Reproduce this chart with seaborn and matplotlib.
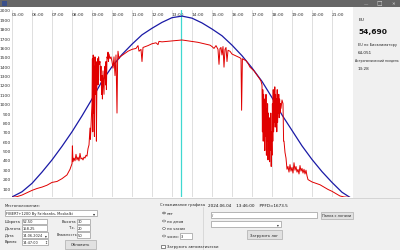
import matplotlib
matplotlib.use("Agg")
import matplotlib.pyplot as plt
from matplotlib.patches import Rectangle, Circle
import seaborn as sns
import pandas as pd

# ---------------- data ----------------
hour_ticks = list(range(5, 22))
hour_labels = [f"{h:02d}:00" for h in hour_ticks]
ppfd_ticks = list(range(100, 2001, 100))

blue_hours = [5.0, 5.5, 6.0, 6.5, 7.0, 7.5, 8.0, 8.5, 9.0, 9.5, 10.0, 10.5, 11.0, 11.5,
              12.0, 12.5, 13.0, 13.5, 14.0, 14.5, 15.0, 15.5, 16.0, 16.5, 17.0, 17.5,
              18.0, 18.5, 19.0, 19.5, 20.0, 20.5, 21.0, 21.5, 21.9]
blue_ppfd = [5, 60, 150, 270, 400, 545, 700, 870, 1050, 1240, 1395, 1525, 1635, 1735,
             1805, 1868, 1918, 1935, 1913, 1862, 1797, 1725, 1625, 1512, 1382, 1238,
             1065, 880, 715, 550, 405, 275, 160, 55, 0]

red_hours = [5.0, 5.25, 5.5, 5.75, 6.0, 6.25, 6.5, 6.75, 7.0, 7.25, 7.5, 7.75, 7.9,
             8.0, 8.02, 8.05, 8.1, 8.15, 8.2, 8.25, 8.3, 8.35, 8.4, 8.45, 8.5, 8.55, 8.6,
             8.65, 8.7, 8.75, 8.8, 8.85, 8.9, 8.92, 8.95,
             9.0, 9.02, 9.04, 9.06, 9.08, 9.1, 9.12, 9.15, 9.18, 9.2, 9.22, 9.25, 9.28,
             9.3, 9.33, 9.36, 9.4, 9.42, 9.45, 9.48, 9.5, 9.52, 9.55, 9.58, 9.6, 9.62,
             9.65, 9.68, 9.7, 9.72, 9.75, 9.78, 9.8, 9.82, 9.85, 9.9, 9.95, 10.0, 10.05,
             10.1, 10.15, 10.2, 10.25, 10.28, 10.3, 10.35, 10.4,
             10.6, 10.8, 11.0, 11.2, 11.3, 11.35, 11.45, 11.5, 11.55, 11.8, 12.0, 12.2,
             12.3, 12.35, 12.5, 13.0, 13.5, 14.0, 14.3, 14.6, 14.9, 15.0, 15.1, 15.2,
             15.3, 15.35, 15.4, 15.45, 15.5, 15.55, 15.6, 15.65, 15.7, 15.75, 15.8, 15.9,
             16.0, 16.1, 16.2, 16.3, 16.4, 16.45, 16.48, 16.52, 16.6, 16.7, 16.8, 16.9,
             17.0, 17.1, 17.2, 17.3, 17.4, 17.45,
             17.5, 17.52, 17.54, 17.56, 17.58, 17.6, 17.62, 17.64, 17.66, 17.68, 17.7,
             17.72, 17.74, 17.76, 17.78, 17.8, 17.82, 17.84, 17.86, 17.88, 17.9, 17.92,
             17.94, 17.96, 17.98, 18.0, 18.02, 18.04, 18.06, 18.08, 18.1, 18.12, 18.14,
             18.16, 18.18, 18.2, 18.22, 18.24, 18.26, 18.28, 18.3, 18.32, 18.34, 18.36,
             18.38, 18.4, 18.42, 18.45, 18.5, 18.55, 18.58,
             18.6, 18.65, 18.7, 18.75, 18.8, 18.85, 18.9, 18.95, 19.0, 19.05, 19.1, 19.15,
             19.2, 19.25, 19.3, 19.35, 19.4, 19.45, 19.5, 19.55, 19.6, 19.65, 19.7, 19.75,
             19.8, 20.0, 20.2, 20.4, 20.6, 20.8, 21.0, 21.2, 21.4, 21.6, 21.9]
red_ppfd = [0, 8, 25, 50, 75, 95, 110, 130, 160, 170, 200, 240, 300,
            360, 550, 380, 420, 390, 460, 400, 430, 390, 470, 410, 420, 400, 430,
            420, 450, 440, 520, 560, 740, 620, 760,
            1000, 1480, 700, 1520, 900, 1400, 650, 1500, 1100, 1450, 600, 1350, 1480,
            1200, 1500, 1420, 1450, 1250, 1400, 1100, 1300, 1050, 1350, 1200, 1100, 1300,
            1400, 1200, 1450, 1150, 1500, 1480, 1550, 1450, 1530, 1480, 1500, 1450, 1380,
            1500, 1300, 1520, 900, 1450, 1560, 1480, 1500,
            1530, 1560, 1580, 1590, 1620, 1560, 1580, 1450, 1600, 1620, 1640, 1650,
            1630, 1665, 1660, 1670, 1680, 1665, 1655, 1640, 1625, 1610, 1590, 1620,
            1580, 1420, 1590, 1600, 1520, 1610, 1390, 1580, 1600, 1450, 1570, 1560,
            1530, 1520, 1510, 1500, 1490, 1480, 930, 1480, 1470, 1460, 1430, 1390,
            1370, 1350, 1320, 1290, 1260, 1240,
            1200, 700, 1150, 600, 1100, 800, 1050, 500, 1000, 650, 1100,
            450, 950, 600, 1000, 400, 900, 550, 850, 380, 800, 500,
            900, 330, 700, 450, 1000, 600, 1150, 700, 950, 800, 1180,
            750, 1100, 850, 1050, 700, 1150, 800, 1000, 900, 1100, 850,
            1050, 900, 1000, 950, 1040, 1000, 600,
            600, 480, 420, 300, 330, 270, 350, 280, 320, 260, 370, 290,
            330, 270, 300, 250, 340, 280, 310, 260, 300, 250, 290, 230,
            190, 165, 150, 135, 110, 85, 65, 40, 15, 5, 0]

solar_noon = 13 + 28 / 60

df_blue = pd.DataFrame({"hour": blue_hours, "ppfd": blue_ppfd})
df_red = pd.DataFrame({"hour": red_hours, "ppfd": red_ppfd})

# ---------------- figure ----------------
sns.set_style("white")
plt.rcParams['font.family'] = ['DejaVu Sans']
W, H = 400, 251
fig = plt.figure(figsize=(W / 100, H / 100), dpi=100)
fig.patch.set_facecolor("white")

UI = 2.7


def fx(x):
    return x / W


def fy(y):
    return 1 - y / H


def rect(x0, y0, x1, y1, fc, ec="none", lw=0.5, z=0):
    fig.patches.append(Rectangle((fx(x0), fy(y1)), fx(x1) - fx(x0), fy(y0) - fy(y1),
                                 transform=fig.transFigure, facecolor=fc, edgecolor=ec,
                                 linewidth=lw, zorder=z))


def txt(x, y, s, size=UI, **kw):
    fig.text(fx(x), fy(y), s, fontsize=size, va="center", ha=kw.pop("ha", "left"),
             color=kw.pop("color", "#222222"), **kw)


# panels
rect(0, 0, 400, 8, "#666666")
rect(353, 8, 400, 251, "#f0f0f0")
rect(0, 198.5, 400, 251, "#f0f0f0")
fig.lines.append(plt.Line2D([0, 1], [fy(198.5), fy(198.5)], transform=fig.transFigure,
                            color="#c8c8c8", lw=0.5))

# title bar glyphs
rect(2, 1.5, 7, 6.5, "#3a4f8a")
txt(364, 4, "\u2014", size=3.2, color="#dddddd")
txt(379, 4, "\u25a1", size=4.2, color="#dddddd", ha="center")
txt(393, 4, "\u2715", size=3.2, color="#dddddd", ha="center")

# ---------------- chart ----------------
ax = fig.add_axes([fx(12), fy(198.4), fx(352) - fx(12), fy(11) - fy(198.4)])
ax.set_facecolor("none")
ax.set_xlim(5, 22)
ax.set_ylim(0, 2000)
for s in ax.spines.values():
    s.set_visible(False)

ax.set_xticks(hour_ticks)
ax.set_xticklabels(hour_labels)
ax.xaxis.tick_top()
ax.tick_params(axis="x", length=0, pad=-3.2, labelsize=3.2, labelcolor="#333333")
for lab in ax.get_xticklabels():
    lab.set_ha("left")
    lab.set_va("center")
ax.set_yticks(ppfd_ticks)
ax.set_yticklabels([str(v) for v in ppfd_ticks])
ax.tick_params(axis="y", length=0, pad=1, labelsize=3.2, labelcolor="#333333")
ax.grid(axis="x", color="#d9d9d9", lw=0.6)
ax.grid(axis="y", visible=False)

ax.axvline(solar_noon, color="#3fd8d0", lw=0.9, zorder=1)
sns.lineplot(data=df_blue, x="hour", y="ppfd", ax=ax, color="#1a1aa6", lw=0.9,
             estimator=None, sort=False, zorder=2)
sns.lineplot(data=df_red, x="hour", y="ppfd", ax=ax, color="#e00000", lw=0.7,
             estimator=None, sort=False, zorder=3)
ax.set_xlabel("")
ax.set_ylabel("")

# ---------------- right panel ----------------
txt(359, 20, "EU", size=3.2)
txt(358, 32, "54,690", size=5.4, weight="bold", color="#111111")
txt(358, 45, "EU по Биоклиматору", size=2.55)
txt(358, 53, "64,051", size=3.0)
txt(355, 61, "Астрономический полдень", size=2.25)
txt(358, 69, "13:28", size=3.0)

# ---------------- bottom panel ----------------
txt(5, 206, "Местоположение:")
rect(5, 210.5, 97, 217, "white", "#9a9a9a")
txt(6.5, 213.8, "FIBERT+1200 By Fairbanks, Moskalki", size=2.6)
txt(94, 213.8, "\u25be", size=3.0, ha="center")

txt(5, 222, "Широта")
rect(22, 219.5, 47, 225, "white", "#9a9a9a")
txt(23, 222.3, "52.50", size=2.6)
txt(5, 228.5, "Долгота")
rect(22, 226, 47, 231.5, "white", "#9a9a9a")
txt(23, 228.8, "158.25", size=2.6)
txt(5, 235.5, "Дата")
rect(22, 233, 48, 238.5, "white", "#9a9a9a")
txt(23, 235.8, "14.06.2024", size=2.5)
txt(46, 235.8, "\u25be", size=2.6, ha="center")
txt(5, 242.5, "Время")
rect(22, 240, 48, 245.5, "white", "#9a9a9a")
txt(23, 242.8, "14:47:00", size=2.5)
txt(46, 242.8, "\u2195", size=2.6, ha="center")

txt(62, 222, "Высота")
rect(77, 219.5, 90, 225, "white", "#9a9a9a")
txt(78, 222.3, "30", size=2.6)
txt(69, 228.5, "Т.с.")
rect(77, 226, 90, 231.5, "white", "#9a9a9a")
txt(78, 228.8, "20", size=2.6)
txt(57, 235.5, "Влажность", size=2.5)
rect(77, 233, 90, 238.5, "white", "#9a9a9a")
txt(78, 235.8, "50", size=2.6)
rect(65, 241, 96, 250, "#e1e1e1", "#adadad")
txt(80.5, 245.5, "Обновить", ha="center")

# smoothing group
txt(160, 205, "Сглаживание графика")
fig.lines.append(plt.Line2D([fx(203), fx(203)], [fy(208), fy(251)], transform=fig.transFigure,
                            color="#d0d0d0", lw=0.5))
for yy, lab in [(214, "нет"), (222, "по дням"), (229.5, "по часам"), (237, "число:")]:
    fig.patches.append(Circle((fx(164), fy(yy)), 1.5 / W, transform=fig.transFigure,
                              facecolor="white", edgecolor="#555555", lw=0.4))
    txt(167, yy, lab)
fig.patches.append(Circle((fx(164), fy(214)), 0.7 / W, transform=fig.transFigure,
                          facecolor="#222222", edgecolor="none"))
rect(180, 234.5, 192, 239.5, "white", "#9a9a9a")
txt(181, 237, "3", size=2.6)
rect(161, 245.5, 164.5, 249, "white", "#555555")
txt(167, 247.3, "Загрузить автоматически")

# log section
txt(208, 206, "2024.06.04    13:46:00    PPFD=1673.5", size=3.0, color="#111111")
rect(211, 213, 317, 218.5, "white", "#9a9a9a")
txt(212, 215.8, "/", size=2.6)
rect(321, 212.5, 353, 219.5, "#e1e1e1", "#adadad")
txt(337, 216, "Папка с логами", size=2.5, ha="center")
rect(211, 222, 281, 227.5, "white", "#9a9a9a")
txt(278, 224.8, "\u25be", size=2.6, ha="center")
rect(247, 231.5, 282, 239.5, "#e1e1e1", "#adadad")
txt(264.5, 235.5, "Загрузить лог", ha="center")

fig.savefig("out.png", dpi=100)
